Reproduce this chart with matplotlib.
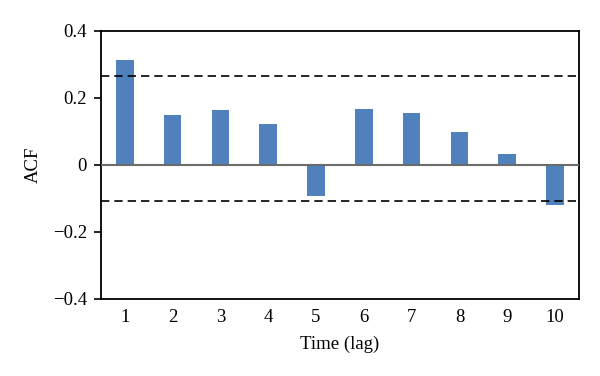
import matplotlib.pyplot as plt

lags = [1, 2, 3, 4, 5, 6, 7, 8, 9, 10]
acf = [0.313, 0.149, 0.164, 0.122, -0.093, 0.167, 0.155, 0.099, 0.033, -0.119]
upper_bound = 0.266
lower_bound = -0.109

plt.rcParams['font.family'] = ['Liberation Serif', 'DejaVu Serif']

fig = plt.figure(figsize=(6, 3.76), dpi=100)
ax = fig.add_axes([0.168, 0.205, 0.797, 0.713])

ax.bar(lags, acf, width=0.37, color='#4F81BD', zorder=2)
ax.axhline(0, color='#6b6b6b', lw=1.5, zorder=3)
ax.axhline(upper_bound, color='black', ls=(0, (5, 3)), lw=1.2, zorder=3)
ax.axhline(lower_bound, color='black', ls=(0, (5, 3)), lw=1.2, zorder=3)

ax.set_xlim(0.5, 10.5)
ax.set_ylim(-0.4, 0.4)
ax.set_xticks(lags)
ax.set_yticks([-0.4, -0.2, 0, 0.2, 0.4])
ax.set_yticklabels(['\u22120.4', '\u22120.2', '0', '0.2', '0.4'])
ax.tick_params(axis='x', length=0, labelsize=13.5, pad=7)
ax.tick_params(axis='y', length=5, width=1.2, labelsize=13.5, pad=5)
for s in ax.spines.values():
    s.set_linewidth(1.3)

ax.set_ylabel('ACF', fontsize=13.5, labelpad=8)
ax.set_xlabel('Time (lag)', fontsize=13.5, labelpad=7)

plt.savefig('out.png')
